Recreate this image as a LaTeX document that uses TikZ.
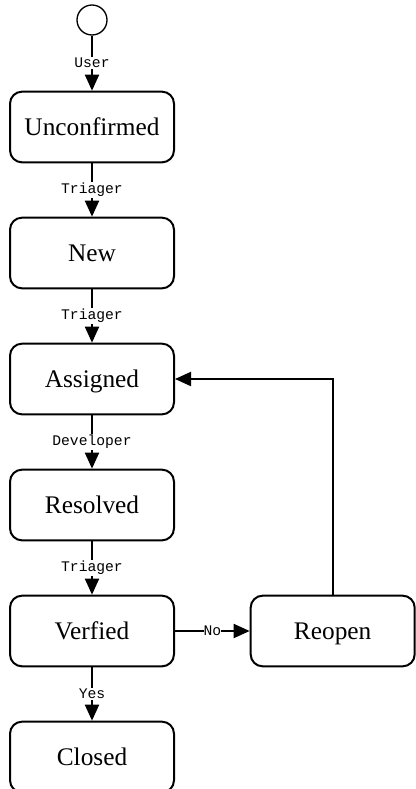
\documentclass[tikz,border=0pt]{standalone}
\usepackage{fontspec}
\setmainfont{Liberation Serif}
\setmonofont{Liberation Mono}
\usetikzlibrary{positioning, arrows.meta}

\begin{document}
\begin{tikzpicture}[
  x=0.75pt, y=-0.75pt,
  state/.style={draw, line width=1.5pt, rounded corners=9pt,
    minimum width=123pt, minimum height=53pt,
    text height=12pt, text depth=0pt,
    font=\fontsize{19}{22}\selectfont},
  start/.style={draw, circle, line width=1pt, minimum size=22.5pt, inner sep=0pt},
  edge/.style={line width=1.5pt, -{Triangle[width=10.5pt,length=12pt]}},
  lbl/.style={fill=white, inner sep=1pt, font=\ttfamily\fontsize{11}{13}\selectfont},
  node distance=40pt
]
\useasboundingbox (0,0) rectangle (416,789);

\node[start] (init) at (92,20) {};
\node[state] (unconf) at (92,127) {Unconfirmed};
\node[state, below=of unconf] (new) {New};
\node[state, below=of new] (assigned) {Assigned};
\node[state, below=of assigned] (resolved) {Resolved};
\node[state, below=of resolved] (verified) {Verfied};
\node[state, below=of verified] (closed) {Closed};
\node[state, right=56pt of verified] (reopen) {Reopen};

\draw[edge] (init) -- node[lbl] {User} (unconf);
\draw[edge] (unconf) -- node[lbl] {Triager} (new);
\draw[edge] (new) -- node[lbl] {Triager} (assigned);
\draw[edge] (assigned) -- node[lbl] {Developer} (resolved);
\draw[edge] (resolved) -- node[lbl] {Triager} (verified);
\draw[edge] (verified) -- node[lbl] {Yes} (closed);
\draw[edge] (verified) -- node[lbl, inner sep=0pt] {No} (reopen);
\draw[edge] (reopen.north) |- (assigned.east);
\end{tikzpicture}
\end{document}
